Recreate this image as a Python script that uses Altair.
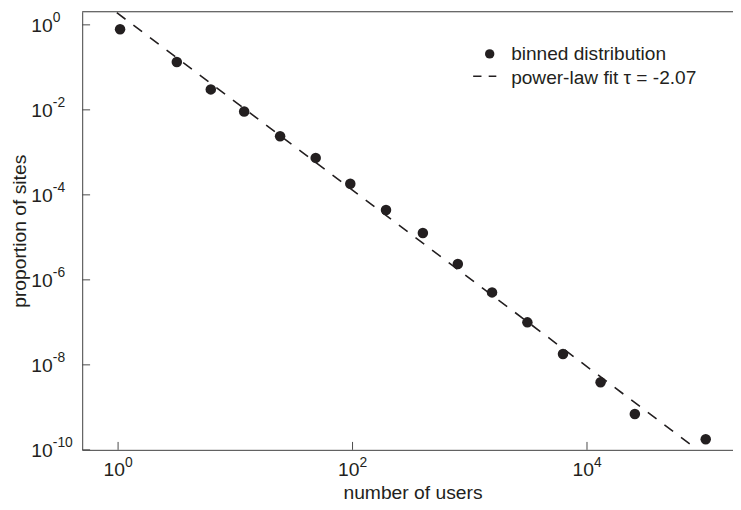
import altair as alt
import pandas as pd

# ---- data ----
users = [1.04, 3.17, 6.18, 11.9, 24.1, 48.5, 95.7, 193, 398, 791, 1549, 3100, 6240, 13060, 25600, 103000]
proportion = [0.79, 0.133, 0.0303, 0.0091, 2.4e-3, 7.4e-4, 1.83e-4, 4.4e-5, 1.26e-5, 2.35e-6,
              5.07e-7, 1.0e-7, 1.8e-8, 3.9e-9, 7.0e-10, 1.77e-10]
fit_x = [0.975, 87700]
fit_y = [1.93, 1.0e-10]

x_ticks = [1, 100, 10000]
x_exps = ["0", "2", "4"]
y_ticks = [1, 1e-2, 1e-4, 1e-6, 1e-8, 1e-10]
y_exps = ["0", "-2", "-4", "-6", "-8", "-10"]

legend_labels = ["binned distribution", "power-law fit \u03c4 = -2.07"]
x_title = "number of users"
y_title = "proportion of sites"

W, H = 658, 443
FONT = "Liberation Sans"
INK = "#231f20"
TXT = "#231f20"
AXC = "#4a4a4a"

pts = pd.DataFrame({"x": users, "y": proportion})
fit = pd.DataFrame({"x": fit_x, "y": fit_y})
xt = pd.DataFrame({"x": x_ticks, "e": x_exps, "b": ["10"] * len(x_ticks)})
yt = pd.DataFrame({"y": y_ticks, "e": y_exps, "b": ["10"] * len(y_ticks)})
leg = pd.DataFrame({"label": legend_labels})

xs = alt.Scale(type="log", domain=[0.494, 1.76e5], nice=False)
ys = alt.Scale(type="log", domain=[1e-10, 2.04], nice=False)

xaxis = alt.Axis(title=x_title, labels=False, ticks=False, grid=False, domainColor=AXC,
                 titleFont=FONT, titleFontSize=19.5, titleFontWeight="normal", titleColor=TXT,
                 titleBaseline="alphabetic", titleAlign="center", titleX=334, titleY=48.7)
yaxis = alt.Axis(title=y_title, labels=False, ticks=False, grid=False, domainColor=AXC,
                 titleFont=FONT, titleFontSize=19.5, titleFontWeight="normal", titleColor=TXT,
                 titleBaseline="alphabetic", titleAlign="center", titleAngle=270,
                 titleX=-57, titleY=221.5)


def X(f="x"):
    return alt.X(f"{f}:Q", scale=xs, axis=xaxis)


def Y(f="y"):
    return alt.Y(f"{f}:Q", scale=ys, axis=yaxis)


line = alt.Chart(fit).mark_line(color=INK, strokeWidth=1.6, strokeDash=[11, 10], clip=True).encode(
    x=X(), y=Y())

points = alt.Chart(pts).mark_point(filled=True, shape="circle", size=113, color=INK, opacity=1).encode(
    x=X(), y=Y())

top_border = alt.Chart(leg.head(1)).mark_rule(color=AXC, strokeWidth=1).encode(
    x=alt.value(0), x2=alt.value(W), y=alt.value(0))

xtick = alt.Chart(xt).mark_rule(color=AXC, strokeWidth=1).encode(
    x=X(), y=alt.value(H), y2=alt.value(H - 8))
ytick = alt.Chart(yt).mark_rule(color=AXC, strokeWidth=1).encode(
    y=Y(), x=alt.value(0), x2=alt.value(8))

xlab_b = alt.Chart(xt).mark_text(font=FONT, fontSize=19.5, color=TXT, align="right",
                                 baseline="alphabetic", dx=7, dy=26).encode(
    x=X(), y=alt.value(H), text="b:N")
xlab_e = alt.Chart(xt).mark_text(font=FONT, fontSize=14, color=TXT, align="left",
                                 baseline="alphabetic", dx=7, dy=17.7).encode(
    x=X(), y=alt.value(H), text="e:N")
ylab_b = alt.Chart(yt).mark_text(font=FONT, fontSize=19.5, color=TXT, align="right",
                                 baseline="alphabetic", dx=-29.7, dy=7).encode(
    y=Y(), x=alt.value(0), text="b:N")
ylab_e = alt.Chart(yt).mark_text(font=FONT, fontSize=14, color=TXT, align="left",
                                 baseline="alphabetic", dx=-29.7, dy=-2.6).encode(
    y=Y(), x=alt.value(0), text="e:N")

leg_pt = alt.Chart(leg.head(1)).mark_point(filled=True, shape="circle", size=90, color=INK, opacity=1).encode(
    x=alt.value(412), y=alt.value(42.7))
leg_dash = alt.Chart(leg.head(1)).mark_rule(color=INK, strokeWidth=1.6, strokeDash=[8.4, 7.3]).encode(
    x=alt.value(395.3), x2=alt.value(418.7), y=alt.value(65.3))
leg_t1 = alt.Chart(leg.head(1)).mark_text(font=FONT, fontSize=19.3, color=TXT, align="left",
                                          baseline="alphabetic").encode(
    x=alt.value(433.7), y=alt.value(49.3), text="label:N")
leg_t2 = alt.Chart(leg.tail(1)).mark_text(font=FONT, fontSize=19.3, color=TXT, align="left",
                                          baseline="alphabetic").encode(
    x=alt.value(433.7), y=alt.value(72.7), text="label:N")

chart = alt.layer(line, points, top_border, xtick, ytick, xlab_b, xlab_e, ylab_b, ylab_e,
                  leg_pt, leg_dash, leg_t1, leg_t2).properties(
    width=W, height=H,
    autosize=alt.AutoSizeParams(type="none"),
    padding={"left": 75, "top": 1, "right": 0, "bottom": 50},
).configure_view(stroke=None).configure(background="white")

chart.save("out.html", embed_options={"renderer": "svg", "actions": False})
